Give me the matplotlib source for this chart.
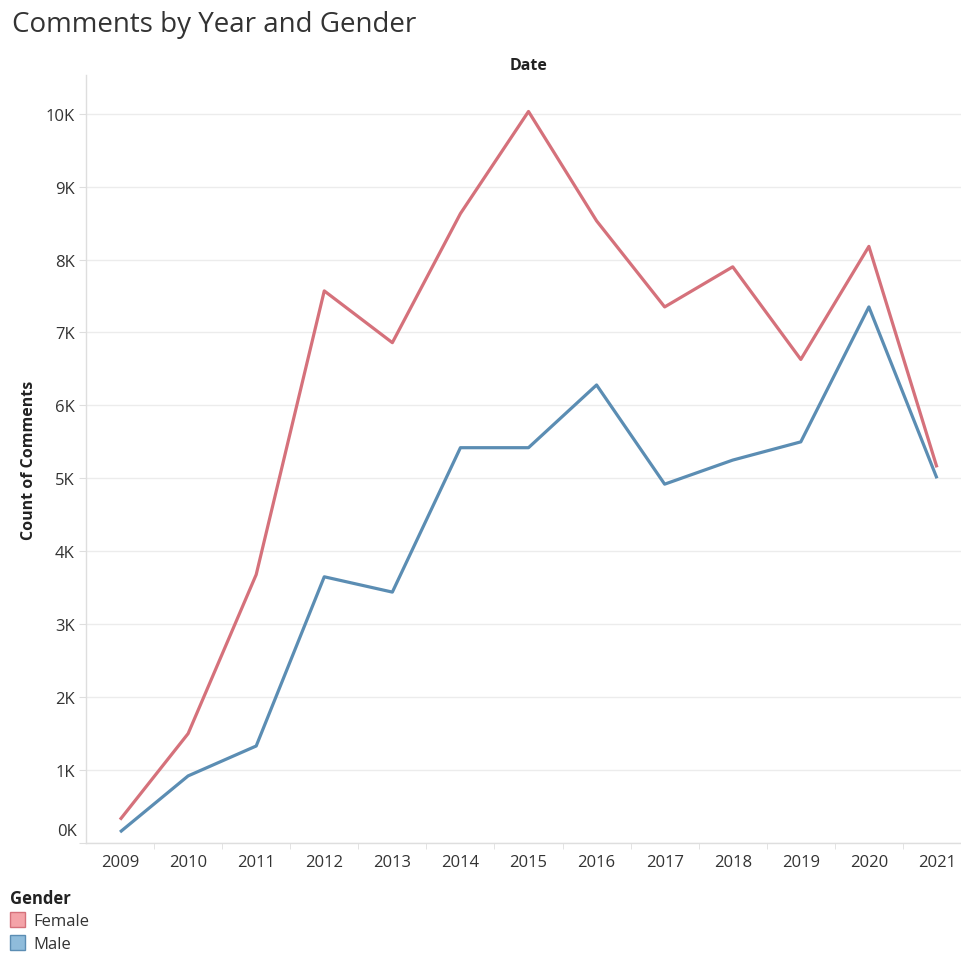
import matplotlib
import matplotlib.pyplot as plt
from matplotlib.patches import Rectangle
from matplotlib.ticker import FuncFormatter, MultipleLocator

matplotlib.rc('font', family=['Open Sans', 'DejaVu Sans'], size=11)

years = [2009, 2010, 2011, 2012, 2013, 2014, 2015,
         2016, 2017, 2018, 2019, 2020, 2021]
female = [320, 1500, 3680, 7570, 6860, 8630, 10030,
          8530, 7350, 7900, 6630, 8180, 5150]
male = [150, 920, 1330, 3650, 3440, 5420, 5420,
        6280, 4920, 5250, 5500, 7350, 5000]

series = [('Female', female, '#d5717b', '#f4a3a8'),
          ('Male', male, '#5b8db3', '#8fbcdb')]

axis_grey = '#dedede'
grid_grey = '#ececec'
text_col = '#333333'

fig = plt.figure(figsize=(9.61, 9.54), dpi=100)
ax = fig.add_axes([86 / 961, 110 / 954, 885 / 961, 768 / 954])

for name, vals, line_col, _ in series:
    ax.plot(years, vals, color=line_col, linewidth=2.3,
            solid_capstyle='butt', zorder=3)

ax.set_xlim(years[0] - 0.5, years[-1] + 0.5)
ax.set_ylim(0, 10530)


def kfmt(v, pos):
    # the 0K label is placed by hand further down
    return '' if v == 0 else f'{int(v / 1000)}K'


ax.yaxis.set_major_locator(MultipleLocator(1000))
ax.yaxis.set_major_formatter(FuncFormatter(kfmt))
ax.set_xticks(years)
ax.set_xticklabels([str(y) for y in years])
ax.set_xticks([y + 0.5 for y in years[:-1]], minor=True)

ax.grid(axis='y', color=grid_grey, linewidth=1.0, zorder=0)
for side in ['top', 'right']:
    ax.spines[side].set_visible(False)
for side in ['left', 'bottom']:
    ax.spines[side].set_color(axis_grey)
    ax.spines[side].set_linewidth(1.0)

ax.tick_params(axis='y', length=5, color=axis_grey, labelsize=12,
               labelcolor=text_col, pad=3)
ax.tick_params(axis='x', which='major', length=0, labelsize=12,
               labelcolor=text_col, pad=8)
ax.tick_params(axis='x', which='minor', length=4, color=axis_grey)

# 0K sits just above the bottom axis line
ax.annotate('0K', xy=(0, 0), xycoords=('axes fraction', 'data'),
            xytext=(-6.5, 8.6), textcoords='offset points',
            ha='right', va='center', fontsize=12, color=text_col)

ax.set_title('Date', fontsize=11.5, fontweight='bold', color='#222222', pad=4)
ax.set_ylabel('Count of Comments', fontsize=11.5, fontweight='bold',
              color='#222222', labelpad=6)

fig.text(12 / 961, 1 - 25 / 954, 'Comments by Year and Gender',
         fontsize=20, color='#333333', va='center', ha='left')

# legend
fig.text(10 / 961, 1 - 899 / 954, 'Gender', fontsize=12, fontweight='bold',
         color='#222222', va='center')
for i, (name, _, line_col, fill_col) in enumerate(series):
    yc = 920.5 + i * 23
    fig.patches.append(Rectangle((10 / 961, 1 - (yc + 7.5) / 954), 15 / 961, 15 / 954,
                                 transform=fig.transFigure, facecolor=fill_col,
                                 edgecolor=line_col, linewidth=1.0))
    fig.text(33 / 961, 1 - (yc + 2) / 954, name, fontsize=12, color=text_col,
             va='center')

fig.savefig('out.png', dpi=100)
